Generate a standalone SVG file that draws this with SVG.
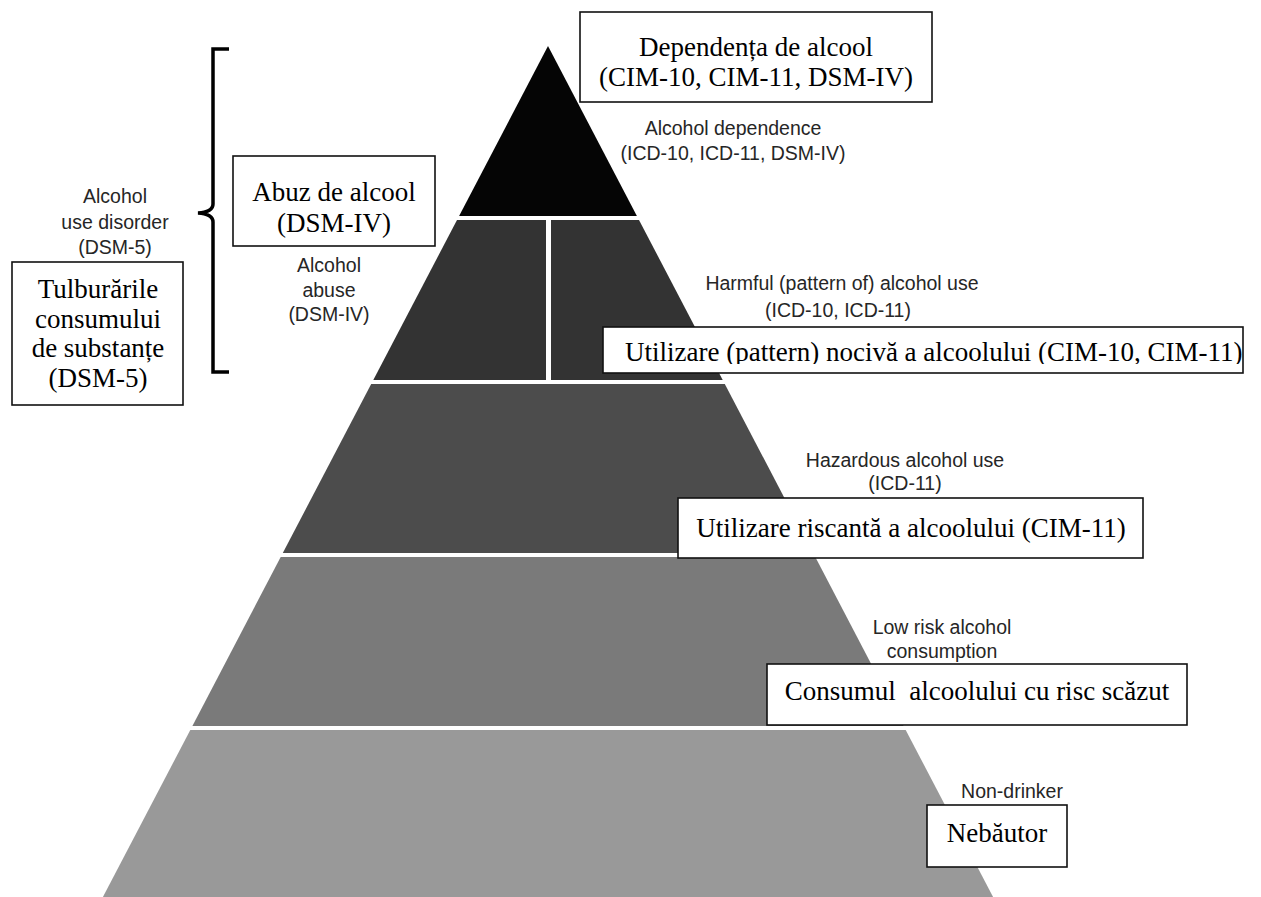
<svg xmlns="http://www.w3.org/2000/svg" width="1261" height="897" viewBox="0 0 1261 897">
<style>
.box{fill:#fff;stroke:#111;stroke-width:1.6}
.ro{font-family:"Liberation Serif","Times New Roman",serif;font-size:27px;fill:#000}
.en{font-family:"Liberation Sans",Arial,sans-serif;font-size:19.5px;fill:#262626}
.mid{text-anchor:middle}
.sep{fill:#fff}
</style>
<defs>
<clipPath id="clipPattern"><rect x="603" y="327" width="645" height="37"/></clipPath>
</defs>
<rect width="1261" height="897" fill="#fff"/>

<g id="tier-dependence"><polygon points="548,46 636.9,216 459.1,216" fill="#050505"/></g>
<g id="tier-harmful"><polygon points="457,220 639,220 722.7,380 373.3,380" fill="#333333"/>
<rect class="sep" x="546" y="220" width="5" height="160"/></g>
<g id="tier-hazardous"><polygon points="371.2,384 724.8,384 813.2,553 282.8,553" fill="#4c4c4c"/></g>
<g id="tier-lowrisk"><polygon points="280.7,557 815.3,557 903.6,726 192.4,726" fill="#7a7a7a"/></g>
<g id="tier-nondrinker"><polygon points="190.3,730 905.7,730 993.1,897 102.9,897" fill="#999999"/></g>

<g id="connectors">
<path d="M229,49 H213 V204 Q213,212 198,213 Q213,214 213,222 V372 H229" fill="none" stroke="#000" stroke-width="3.5"/>
</g>

<g id="node-dependenta">
<rect class="box" x="580" y="12" width="352" height="90"/>
<text class="ro mid" x="756" y="56">Dependența de alcool</text>
<text class="ro mid" x="756" y="86">(CIM-10, CIM-11, DSM-IV)</text>
</g>
<g id="label-dependence">
<text class="en mid" x="733" y="135">Alcohol dependence</text>
<text class="en mid" x="733" y="160">(ICD-10, ICD-11, DSM-IV)</text>
</g>

<g id="node-abuz">
<rect class="box" x="233" y="156" width="202" height="90"/>
<text class="ro mid" x="334" y="201">Abuz de alcool</text>
<text class="ro mid" x="334" y="232">(DSM-IV)</text>
</g>
<g id="label-abuse">
<text class="en mid" x="329" y="272">Alcohol</text>
<text class="en mid" x="329" y="297">abuse</text>
<text class="en mid" x="329" y="321">(DSM-IV)</text>
</g>

<g id="label-aud">
<text class="en mid" x="115" y="203">Alcohol</text>
<text class="en mid" x="115" y="229">use disorder</text>
<text class="en mid" x="115" y="254">(DSM-5)</text>
</g>
<g id="node-tulburari">
<rect class="box" x="12" y="262" width="171" height="143"/>
<text class="ro mid" x="98" y="298">Tulburările</text>
<text class="ro mid" x="98" y="328">consumului</text>
<text class="ro mid" x="98" y="357">de substanțe</text>
<text class="ro mid" x="98" y="387">(DSM-5)</text>
</g>

<g id="label-harmful">
<text class="en mid" x="842" y="290">Harmful (pattern of) alcohol use</text>
<text class="en mid" x="838" y="317">(ICD-10, ICD-11)</text>
</g>
<g id="node-nociva">
<rect class="box" x="603" y="327" width="640" height="46"/>
<text class="ro" x="625" y="361" clip-path="url(#clipPattern)">Utilizare (pattern) nocivă a alcoolului (CIM-10, CIM-11)</text>
</g>

<g id="label-hazardous">
<text class="en mid" x="905" y="467">Hazardous alcohol use</text>
<text class="en mid" x="905" y="490">(ICD-11)</text>
</g>
<g id="node-riscanta">
<rect class="box" x="678" y="498" width="465" height="60"/>
<text class="ro mid" x="911" y="537">Utilizare riscantă a alcoolului (CIM-11)</text>
</g>

<g id="label-lowrisk">
<text class="en mid" x="942" y="634">Low risk alcohol</text>
<text class="en mid" x="942" y="658">consumption</text>
</g>
<g id="node-consum">
<rect class="box" x="767" y="664" width="420" height="61"/>
<text class="ro mid" x="977" y="700" xml:space="preserve">Consumul  alcoolului cu risc scăzut</text>
</g>

<g id="label-nondrinker">
<text class="en mid" x="1012" y="798">Non-drinker</text>
</g>
<g id="node-nebautor">
<rect class="box" x="927" y="805" width="140" height="62"/>
<text class="ro mid" x="997" y="842">Nebăutor</text>
</g>
</svg>
